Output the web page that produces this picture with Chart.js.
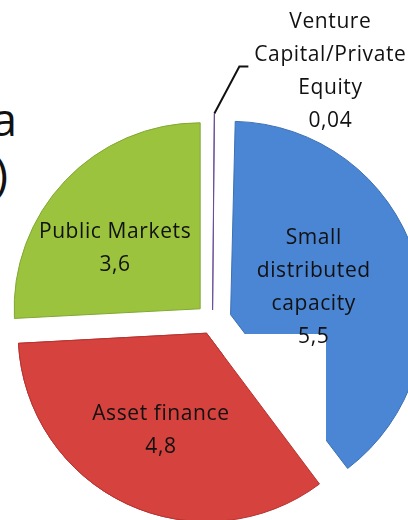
<!DOCTYPE html>
<html>
<head>
<meta charset="utf-8">
<script src="https://cdn.jsdelivr.net/npm/chart.js@4.4.1/dist/chart.umd.min.js"></script>
<style>
html,body{margin:0;padding:0;background:#fff;overflow:hidden;}
#wrap{position:relative;width:408px;height:520px;overflow:hidden;}
#pie{position:absolute;left:-12px;top:0;}
.ttl{position:absolute;font-family:"Open Sans",sans-serif;font-size:46px;color:#111;line-height:1.2;}
</style>
</head>
<body>
<div id="wrap">
  <div class="ttl" style="right:391px;top:91px">a</div>
  <div class="ttl" style="right:400px;top:146px">)</div>
  <canvas id="pie" width="449" height="545"></canvas>
</div>
<script>
// data, clockwise from 12 o'clock
const names = [['Venture', 'Capital/Private', 'Equity'], ['Small', 'distributed', 'capacity'], ['Asset finance'], ['Public Markets']];
const values = [0.04, 5.5, 4.8, 3.6];
const valueText = ['0,04', '5,5', '4,8', '3,6'];
const colors = ['#7F5FA8', '#4A86D4', '#D6423E', '#9BC33E'];
const borders = ['#6A4E98', '#3C70B4', '#B63431', '#80A834'];
const offsets = [42, 76, 56, 68];
const labelDist = [0, 0.47, 0.58, 0.56];
const labelTurn = [0, 0, 0, -8.3]; // degrees

const total = values.reduce((a, b) => a + b, 0);

/* labels + leader line */
const sliceLabels = {
  id: 'sliceLabels',
  afterDatasetsDraw(chart) {
    const ctx = chart.ctx;
    const meta = chart.getDatasetMeta(0);

    // white box in the source picture that hides part of the blue slice
    ctx.save();
    ctx.fillStyle = '#fff';
    ctx.fillRect(236, 334, 102, 220);
    ctx.restore();
    meta.data[2].draw(ctx);

    ctx.save();
    ctx.font = '21px "Open Sans", sans-serif';
    ctx.letterSpacing = '0.6px';
    ctx.fillStyle = '#111';
    ctx.textAlign = 'center';
    ctx.textBaseline = 'middle';
    const lh = 33;

    meta.data.forEach((arc, i) => {
      const p = arc.getProps(['x', 'y', 'startAngle', 'endAngle', 'outerRadius'], true);
      const mid = (p.startAngle + p.endAngle) / 2;
      const shift = offsets[i] / 4;
      const lines = names[i].concat([valueText[i]]);

      if (values[i] / total < 0.02) {
        const r = p.outerRadius + shift * 2;
        const sx = p.x + Math.cos(mid) * r;
        const sy = p.y + Math.sin(mid) * r;
        ctx.strokeStyle = '#111';
        ctx.lineWidth = 2;
        ctx.beginPath();
        ctx.moveTo(sx, sy);
        ctx.lineTo(sx + 25, sy - 47);
        ctx.lineTo(sx + 34, sy - 47);
        ctx.stroke();
        const tx = sx + 116;
        const ty = sy - 42;
        lines.forEach((t, k) => {
          ctx.fillText(t, tx, ty + (k - (lines.length - 1) / 2) * lh);
        });
        return;
      }

      const ax = p.x + Math.cos(mid) * shift;
      const ay = p.y + Math.sin(mid) * shift;
      const r = p.outerRadius * labelDist[i];
      const a = mid + labelTurn[i] * Math.PI / 180;
      const cx = ax + Math.cos(a) * r;
      const cy = ay + Math.sin(a) * r;
      lines.forEach((t, k) => {
        ctx.fillText(t, cx, cy + (k - (lines.length - 1) / 2) * lh);
      });
    });
    ctx.restore();
  }
};

new Chart(document.getElementById('pie'), {
  type: 'pie',
  data: {
    labels: names.map(n => n.join(' ')),
    datasets: [{
      data: values,
      backgroundColor: colors,
      borderColor: borders,
      borderWidth: 1,
      offset: offsets
    }]
  },
  options: {
    responsive: false,
    animation: false,
    rotation: 0,
    layout: { padding: { top: 96 } },
    plugins: {
      legend: { display: false },
      tooltip: { enabled: false }
    }
  },
  plugins: [sliceLabels]
});
</script>
</body>
</html>
